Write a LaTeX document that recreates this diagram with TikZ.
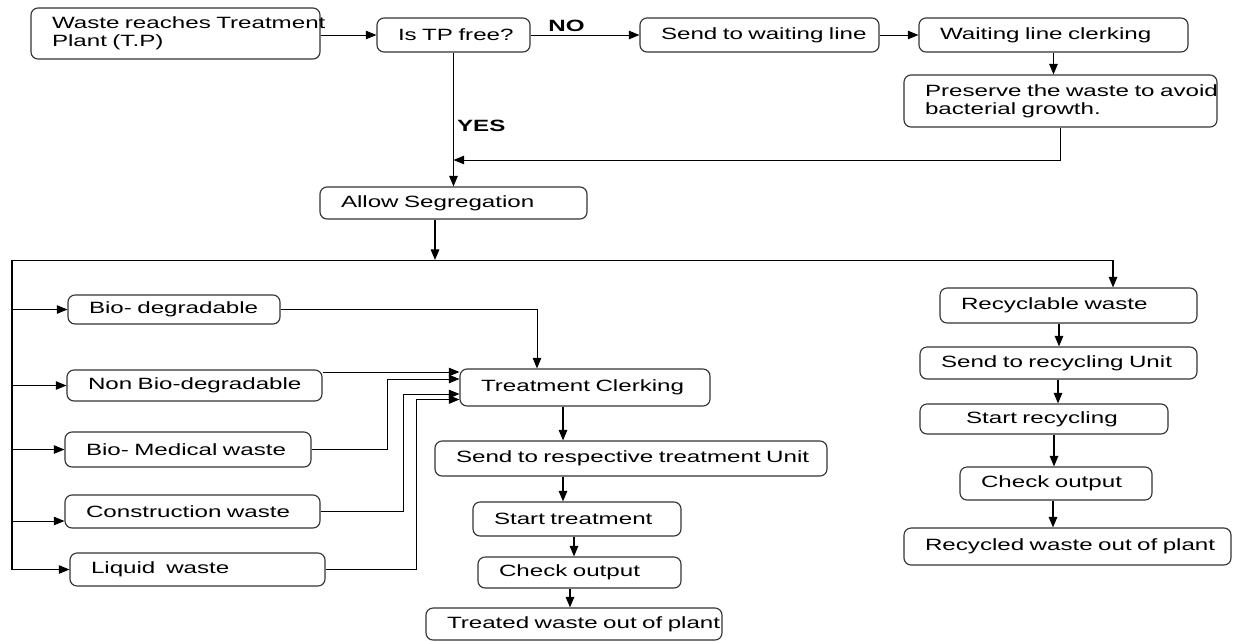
\documentclass[tikz,border=0pt]{standalone}
\usepackage{fontspec}
\setmainfont{Liberation Sans}[FakeStretch=1.48]
\usetikzlibrary{arrows.meta}
\newdimen\unitpx
\unitpx=0.025cm
\definecolor{boxline}{HTML}{333333}
\hyphenpenalty=10000
\exhyphenpenalty=10000

\begin{document}
\begin{tikzpicture}[x=0.025cm, y=-0.025cm,
  stagebox/.style 2 args={draw=boxline, line width=0.8pt, rounded corners=5pt,
    align=left, inner ysep=0pt, inner xsep=21*\unitpx,
    minimum width=#1*\unitpx, text width=(#1-42)*\unitpx, minimum height=#2*\unitpx,
    font=\fontsize{11.6}{12.5}\selectfont},
  flow/.style={-{Triangle[length=7.5pt,width=6pt]}, line width=0.7pt},
  drop/.style={flow, line width=1.1pt},
  wire/.style={line width=0.6pt},
  lbl/.style={font=\fontsize{11.6}{12.5}\selectfont\bfseries, inner sep=2pt}]
\useasboundingbox (0,0) rectangle (1234,641);

% intake
\node[stagebox={289}{51}] (A) at (175.5,33.5) {Waste~reaches~Treatment\\Plant~(T.P)};
\node[stagebox={153}{34}] (B) at (453.5,35) {Is~TP~free?};
\node[stagebox={239}{34}] (C) at (759.5,35) {Send~to~waiting~line};
\node[stagebox={269}{34}] (D) at (1053.5,35) {Waiting~line~clerking};
\node[stagebox={313}{52}] (E) at (1060.5,101) {Preserve~the~waste~to~avoid\\bacterial~growth.};
\node[stagebox={267}{32}] (F) at (453.5,203) {Allow~Segregation};

% waste streams
\node[stagebox={212}{29}] (G1) at (174,309.5) {Bio-~degradable};
\node[stagebox={255}{31}] (G2) at (194.5,385.5) {Non~Bio-degradable};
\node[stagebox={246}{35}] (G3) at (188,449.5) {Bio-~Medical~waste};
\node[stagebox={255}{33}] (G4) at (192.5,511.5) {Construction~waste};
\node[stagebox={255}{33}] (G5) at (197.5,569.5) {Liquid~~waste};

% treatment line
\node[stagebox={250}{37}] (T1) at (585,387.5) {Treatment~Clerking};
\node[stagebox={392}{35}] (T2) at (631,458.5) {Send~to~respective~treatment~Unit};
\node[stagebox={208}{34}] (T3) at (577,519) {Start~treatment};
\node[stagebox={203}{31}] (T4) at (579.5,572.5) {Check~output};
\node[stagebox={296}{32}] (T5) at (574,624) {Treated~waste~out~of~plant};

% recycling line
\node[stagebox={257}{35}] (R1) at (1068.5,305.5) {Recyclable~waste};
\node[stagebox={277}{32}] (R2) at (1058.5,363) {Send~to~recycling~Unit};
\node[stagebox={248}{30}, inner xsep=46*\unitpx, text width=156*\unitpx] (R3) at (1044,419) {Start~recycling};
\node[stagebox={192}{33}] (R4) at (1056,483.5) {Check~output};
\node[stagebox={327}{37}] (R5) at (1067.5,546.5) {Recycled~waste~out~of~plant};

% top flow
\draw[flow] (A.east |- B.west) -- (B.west);
\draw[flow] (B.east) -- node[lbl, above, pos=0.33] {NO} (C.west);
\draw[flow] (C.east) -- (D.west);
\draw[drop] (D.south) -- (D.south |- E.north);
\coordinate (merge) at (453.5,160);
\draw[flow] (E.south) |- (merge);
\draw[drop] (B.south) -- node[lbl, right, pos=0.55] {YES} (F.north);

% distribution
\coordinate (segout) at ([xshift=-18.5*\unitpx]F.south);
\coordinate (busL) at (12,260);
\coordinate (busR) at (1113,260);
\draw[drop] (segout) -- (segout |- busL);
\draw[wire] (busL) -- (busR);
\draw[drop] (busR) -- (busR |- R1.north);
\draw[wire, line width=0.9pt] (busL) -- (busL |- G5.west);
\foreach \g in {G1,G2,G3,G5}
  \draw[flow] (busL |- \g.west) -- (\g.west);
\coordinate (g4in) at ([yshift=-9.5*\unitpx]G4.west);
\draw[flow] (busL |- g4in) -- (g4in);

% into treatment clerking
\coordinate (in1) at ([yshift=15.5*\unitpx]T1.west);
\coordinate (in2) at ([yshift=8.5*\unitpx]T1.west);
\coordinate (in3) at ([yshift=-6.5*\unitpx]T1.west);
\coordinate (in4) at ([yshift=-12*\unitpx]T1.west);
\draw[flow] (G1.east) -| ([xshift=-48*\unitpx]T1.north);
\draw[flow] (G2.east |- in1) -- (in1);
\draw[flow] (G3.east) -| ([xshift=-72*\unitpx]in2) -- (in2);
\draw[flow] (G4.east) -| ([xshift=-56*\unitpx]in3) -- (in3);
\draw[flow] (G5.east) -| ([xshift=-43*\unitpx]in4) -- (in4);

% chains
\foreach \a/\b/\x in {T1/T2/563, T2/T3/563, T3/T4/574, T4/T5/570,
                      R1/R2/1059, R2/R3/1058, R3/R4/1054, R4/R5/1053}
  \draw[drop] (\a.south -| \x,0) -- (\b.north -| \x,0);
\end{tikzpicture}
\end{document}
